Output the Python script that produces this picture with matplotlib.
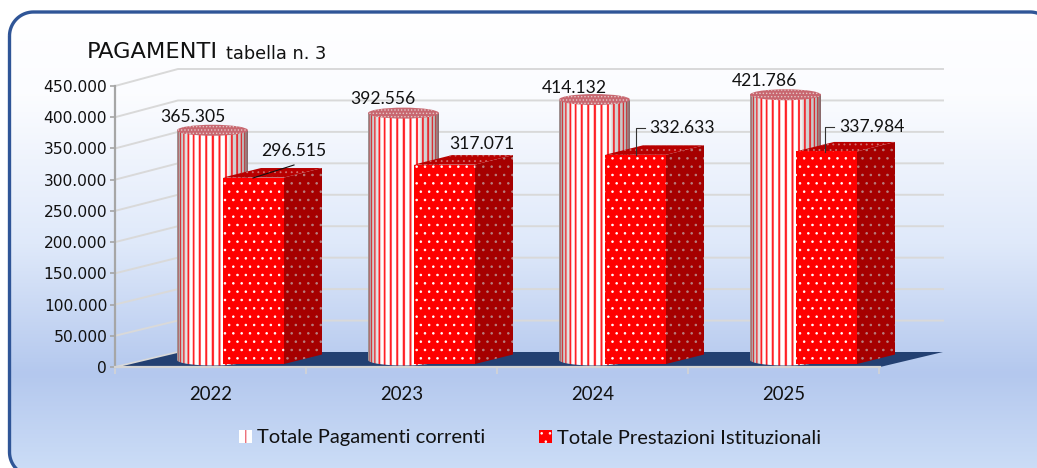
import numpy as np
import matplotlib
matplotlib.use("Agg")
import matplotlib.pyplot as plt
from matplotlib.patches import Polygon, Ellipse, Patch
from matplotlib.colors import LinearSegmentedColormap

years = ["2022", "2023", "2024", "2025"]
pagamenti = [365305, 392556, 414132, 421786]
prestazioni = [296515, 317071, 332633, 337984]
y_ticks = [0, 50000, 100000, 150000, 200000, 250000, 300000, 350000, 400000, 450000]
series_names = ["Totale Pagamenti correnti", "Totale Prestazioni Istituzionali"]

W, H = 1037, 468
plt.rcParams['font.family'] = ['Lato', 'DejaVu Sans']
plt.rcParams['hatch.linewidth'] = 0.6
fig = plt.figure(figsize=(W / 100, H / 100), dpi=100, facecolor='white')

def fmt(v):
    return f"{v:,}".replace(",", ".")

def rounded_outline(x0, y0, x1, y1, r, n=24):
    a = np.linspace(0, np.pi / 2, n)
    c, s = np.cos(a), np.sin(a)
    top_left = np.c_[x0 + r - r * c, y0 + r - r * s]
    top_right = np.c_[x1 - r + r * s, y0 + r - r * c]
    bottom_right = np.c_[x1 - r + r * c, y1 - r + r * s]
    bottom_left = np.c_[x0 + r - r * s, y1 - r + r * c]
    return np.vstack([top_left, top_right, bottom_right, bottom_left])

# pixel-space background layer
bg = fig.add_axes([0, 0, 1, 1], zorder=0)
bg.axis('off')
cmap = LinearSegmentedColormap.from_list('g', [(0, '#ffffff'), (0.18, '#fbfcff'), (0.5, '#dfe9fa'),
                                              (0.78, '#b4c8ee'), (1, '#cddef7')])
FX0, FY0, FX1, FY1 = 9.5, 12, 1054, 476
outline = rounded_outline(FX0, FY0, FX1, FY1, 24)
im = bg.imshow(np.linspace(0, 1, 256)[:, None], extent=(FX0, FX1, FY1, FY0), cmap=cmap, aspect='auto', zorder=1)
bg.set_xlim(0, W); bg.set_ylim(H, 0)
bg.add_patch(Polygon(outline, closed=True, fc='none', ec='#2f5597', lw=2.4, zorder=3, joinstyle='round'))
im.set_clip_path(Polygon(outline, closed=True, transform=bg.transData))

# main chart axes
L, R, T, B = 115, 880, 86, 367
ax = fig.add_axes([L / W, 1 - B / H, (R - L) / W, (B - T) / H], zorder=2)
ax.patch.set_visible(False)
PX_C = 1 / 191.0            # category units per pixel
PX_V = 450000 / (B - T)     # value units per pixel
ax_xmax = (R - L) * PX_C
K = 283 / 281               # scale of the depth plane

wall_dx, wall_dy = 63 * PX_C, 15 * PX_V
floor = Polygon([(0, 0), (wall_dx, wall_dy), (ax_xmax + wall_dx, wall_dy), (ax_xmax, 0)],
                fc='#234072', ec='none', zorder=2, clip_on=False)
ax.add_patch(floor)
for v in y_ticks[1:]:
    ax.plot([0, wall_dx, ax_xmax + wall_dx], [v, v * K + wall_dy, v * K + wall_dy],
            color='#d9d9d9', lw=1.4, zorder=1, clip_on=False)
ax.plot([0, wall_dx], [0, wall_dy], color='#d9d9d9', lw=1.2, zorder=2, clip_on=False)

# cylinder texture
cols = 284
u = np.linspace(-1, 1, cols)
theta = np.arcsin(u)
shade = np.interp(u, [-1, -0.86, -0.6, 0.1, 0.42, 0.5, 0.85, 1], [0.6, 0.8, 1, 1, 1, 0.86, 0.76, 0.5])
period = 0.19
stripe = ((theta + 0.02) % period) < 0.06
rgb = np.ones((1, cols, 3))
rgb[0, :, 0] = shade
rgb[0, :, 1] = shade
rgb[0, :, 2] = shade
rgb[0, stripe, 0] = np.clip(shade[stripe] + 0.1, 0, 1)
rgb[0, stripe, 1] = 0.12
rgb[0, stripe, 2] = 0.14

cyl_cx, cyl_r = 97.5 * PX_C, 35.5 * PX_C
cyl_base, cyl_minor = 7 * PX_V, 5.5 * PX_V
box_x, box_w = 108 * PX_C, 61 * PX_C
box_base, box_dx, box_dy = 3 * PX_V, 38 * PX_C, 9.5 * PX_V

for i, (p, q) in enumerate(zip(pagamenti, prestazioni)):
    cx = i + cyl_cx
    top = p * K + cyl_base
    t = np.linspace(np.pi, 2 * np.pi, 60)
    body = np.vstack([[cx - cyl_r, top],
                      np.c_[cx + cyl_r * np.cos(t), cyl_base + cyl_minor * np.sin(t)],
                      [cx + cyl_r, top]])
    clip = Polygon(body, transform=ax.transData, fc='none', ec='none')
    ax.add_patch(clip)
    img = ax.imshow(rgb, extent=(cx - cyl_r, cx + cyl_r, 0, top), aspect='auto', zorder=3,
                    interpolation='antialiased', clip_on=True)
    img.set_clip_path(clip)
    ax.add_patch(Ellipse((cx, top), 2 * cyl_r, 2 * cyl_minor, fc='#c8666f', ec='#e4c8c8', lw=0,
                         hatch='.....', zorder=4, clip_on=False))

    x0 = i + box_x
    x1 = x0 + box_w
    ytop = q * K + box_base
    # side face
    ax.add_patch(Polygon([(x1, box_base), (x1 + box_dx, box_base + box_dy), (x1 + box_dx, ytop + box_dy), (x1, ytop)],
                         fc='#a50000', ec='#b88080', lw=0, hatch='..', zorder=5, clip_on=False))
    # top face
    ax.add_patch(Polygon([(x0, ytop), (x1, ytop), (x1 + box_dx, ytop + box_dy), (x0 + box_dx, ytop + box_dy)],
                         fc='#b80000', ec='#d07070', lw=0, hatch='...', zorder=5, clip_on=False))
    # front face
    ax.add_patch(Polygon([(x0, box_base), (x1, box_base), (x1, ytop), (x0, ytop)],
                         fc='#ff0000', ec='#ffffff', lw=0, hatch='..', zorder=6, clip_on=False))

ax.set_xlim(0, ax_xmax)
ax.set_ylim(0, 450000)

# axes furniture
for s in ['top', 'right']:
    ax.spines[s].set_visible(False)
ax.spines['left'].set_color('#a6a6a6'); ax.spines['left'].set_linewidth(1.6)
ax.spines['bottom'].set_color('#d4d4d4'); ax.spines['bottom'].set_linewidth(1.6)
ax.spines['left'].set_zorder(7); ax.spines['bottom'].set_zorder(7)
ax.set_yticks(y_ticks)
ax.set_yticklabels([fmt(v) for v in y_ticks], fontsize=11.2, color='#111111', family='DejaVu Sans')
ax.tick_params(axis='y', length=3.6, width=1.2, color='#a6a6a6', pad=2)
ax.set_xticks(range(5))
ax.set_xticklabels([])
ax.tick_params(axis='x', which='major', length=5, width=1.2, color='#d4d4d4')
ax.set_xticks(np.arange(4) + 0.5, minor=True)
ax.set_xticklabels(years, minor=True, fontsize=13.4, color='#111111')
ax.tick_params(axis='x', which='minor', length=0, pad=14)

# overlay for texts in pixels
ov = fig.add_axes([0, 0, 1, 1], zorder=3)
ov.set_xlim(0, W); ov.set_ylim(H, 0); ov.axis('off')
ov.text(87, 52, "PAGAMENTI", fontsize=16.2, family='DejaVu Sans', va='center', color='#111111')
ov.text(226, 54, "tabella n. 3", fontsize=12.8, family='DejaVu Sans', va='center', color='#111111')

label_xy_a = [(193, 117), (383, 99), (574, 88), (765, 81)]
label_xy_b = [(294, 151), (482, 144), (682, 128), (872, 127)]
for v, (x, y) in zip(pagamenti, label_xy_a):
    ov.text(x, y, fmt(v), fontsize=12.6, ha='center', va='center', color='#111111')
for v, (x, y) in zip(prestazioni, label_xy_b):
    ov.text(x, y, fmt(v), fontsize=12.6, ha='center', va='center', color='#111111')
ov.plot([253, 294], [178, 165], color='#111111', lw=0.8)
ov.plot([636, 636, 645], [155, 128, 128], color='#333333', lw=0.8)
ov.plot([825, 825, 834], [152, 127, 127], color='#333333', lw=0.8)

handles = [Patch(fc='white', ec='#e01020', lw=0, hatch='||'),
           Patch(fc='#ff0000', ec='white', lw=0, hatch='..')]
fig.legend(handles, series_names, ncol=2, loc='center', bbox_to_anchor=(530 / W, 1 - 438 / H),
           frameon=False, fontsize=14.5, handlelength=0.65, handleheight=0.65, handletextpad=0.25,
           columnspacing=2.7, labelcolor='#111111')

fig.savefig("out.png", dpi=100)
